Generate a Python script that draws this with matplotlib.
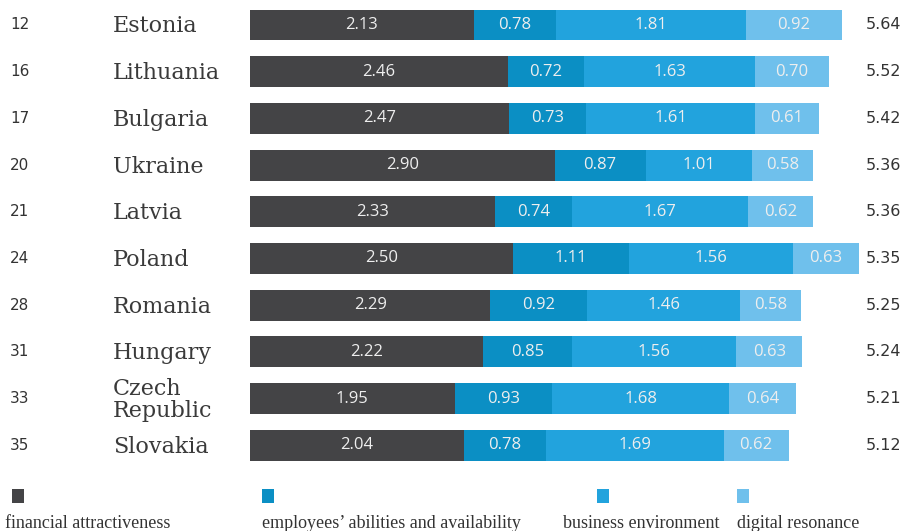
import matplotlib.pyplot as plt
from matplotlib.patches import Rectangle

ranks = [12, 16, 17, 20, 21, 24, 28, 31, 33, 35]
countries = ["Estonia", "Lithuania", "Bulgaria", "Ukraine", "Latvia", "Poland",
             "Romania", "Hungary", "Czech\nRepublic", "Slovakia"]
financial = [2.13, 2.46, 2.47, 2.90, 2.33, 2.50, 2.29, 2.22, 1.95, 2.04]
employees = [0.78, 0.72, 0.73, 0.87, 0.74, 1.11, 0.92, 0.85, 0.93, 0.78]
business = [1.81, 1.63, 1.61, 1.01, 1.67, 1.56, 1.46, 1.56, 1.68, 1.69]
digital = [0.92, 0.70, 0.61, 0.58, 0.62, 0.63, 0.58, 0.63, 0.64, 0.62]
totals = [5.64, 5.52, 5.42, 5.36, 5.36, 5.35, 5.25, 5.24, 5.21, 5.12]

series = [financial, employees, business, digital]
labels = ["financial attractiveness", "employees\u2019 abilities and availability",
          "business environment", "digital resonance"]
colors = ["#444446", "#0b8fc4", "#22a3dd", "#6fc0ec"]

W, H = 905, 531
fig = plt.figure(figsize=(W / 100, H / 100), dpi=100)
ax = fig.add_axes([0, 0, 1, 1])
ax.axis("off")

# 105 px per unit, bars start at x=250 px; rows every 46.7 px from y=25
ppu = 105
row = 46.7
ax.set_xlim(-250 / ppu, (W - 250) / ppu)
ax.set_ylim((H - 25) / row, -25 / row)

y = list(range(len(countries)))
left = [0.0] * len(countries)
for vals, col in zip(series, colors):
    ax.barh(y, vals, left=left, height=0.66, color=col, linewidth=0)
    for i, v in enumerate(vals):
        ax.text(left[i] + v / 2, i, f"{v:.2f}", ha="center", va="center",
                color="#eeeeee", fontsize=12, family="Open Sans")
    left = [l + v for l, v in zip(left, vals)]

for i in y:
    ax.text(-240 / ppu, i, str(ranks[i]), ha="left", va="center",
            fontsize=11, color="#333333", family="DejaVu Sans")
    ax.text(-137 / ppu, i + 0.03, countries[i], ha="left", va="center",
            fontsize=16, color="#3a3a3a", family="DejaVu Serif",
            linespacing=0.95)
    ax.text(616 / ppu, i, f"{totals[i]:.2f}", ha="left", va="center",
            fontsize=11.5, color="#333333", family="DejaVu Sans")

# legend along the bottom
sq_x = [12, 262, 597, 737]
txt_x = [5, 262, 563, 737]
for sx, tx, col, lab in zip(sq_x, txt_x, colors, labels):
    fig.add_artist(Rectangle((sx / W, 1 - 503 / H), 12 / W, 14 / H,
                             transform=fig.transFigure, color=col, lw=0))
    fig.text(tx / W, 1 - 523 / H, lab, ha="left", va="center",
             fontsize=13, color="#333333", family="Liberation Serif")

fig.savefig("out.png", dpi=100)
